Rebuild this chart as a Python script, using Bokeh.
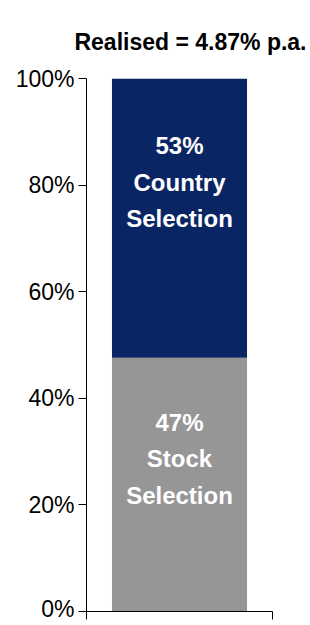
from bokeh.plotting import figure
from bokeh.models import ColumnDataSource, FixedTicker, Range1d, Title, CustomJSTickFormatter
from bokeh.core.properties import value
from bokeh.embed import file_html
from bokeh.resources import INLINE

# data
segments = ["Stock Selection", "Country Selection"]
shares = [47.6, 52.4]
labels = ["47%\nStock\nSelection", "53%\nCountry\nSelection"]
colors = ["#969696", "#0A2564"]
y_ticks = [0, 20, 40, 60, 80, 100]
title_text = "Realised = 4.87% p.a."

FONT = "Liberation Sans"

bottoms = []
tops = []
acc = 0
for s in shares:
    bottoms.append(acc)
    acc += s
    tops.append(acc)
mids = [(b + t) / 2 for b, t in zip(bottoms, tops)]

src = ColumnDataSource(dict(x=[0.5, 0.5], bottom=bottoms, top=tops, color=colors,
                            label=labels, mid=mids, yoff=[-26, -36]))

p = figure(width=310, height=621, output_backend="svg", toolbar_location=None,
           x_range=Range1d(0, 1), y_range=Range1d(0, 100),
           min_border_left=86, min_border_right=38, min_border_top=78, min_border_bottom=10)
p.outline_line_color = None
p.xgrid.visible = False
p.ygrid.visible = False
p.background_fill_color = "white"

p.vbar(x="x", width=0.726, bottom="bottom", top="top", color="color", source=src, line_color=None)
p.text(x="x", y="mid", text="label", source=src, text_align="center", text_baseline="middle",
       y_offset="yoff", text_color="white", text_font=value(FONT), text_font_style="bold",
       text_font_size="24px", text_line_height=1.35)

p.yaxis.ticker = FixedTicker(ticks=y_ticks)
p.yaxis.formatter = CustomJSTickFormatter(code="return tick + '%';")
p.yaxis.major_label_text_font = FONT
p.yaxis.major_label_text_font_size = "23px"
p.yaxis.major_label_text_color = "black"
p.yaxis.major_tick_in = 0
p.yaxis.major_tick_out = 8
p.yaxis.minor_tick_line_color = None
p.yaxis.axis_line_color = "black"
p.yaxis.major_tick_line_color = "black"
p.yaxis.major_label_standoff = 4

p.xaxis.ticker = FixedTicker(ticks=[0, 1])
p.xaxis.formatter = CustomJSTickFormatter(code="return '';")
p.xaxis.major_label_standoff = 0
p.xaxis.major_tick_in = 0
p.xaxis.major_tick_out = 8
p.xaxis.minor_tick_line_color = None
p.xaxis.axis_line_color = "black"
p.xaxis.major_tick_line_color = "black"

p.title = Title(text=title_text, align="right", text_font=FONT, text_font_style="bold",
                text_font_size="23px", text_color="black", standoff=48, offset=-34)

open("out.html", "w").write(file_html(p, INLINE))
